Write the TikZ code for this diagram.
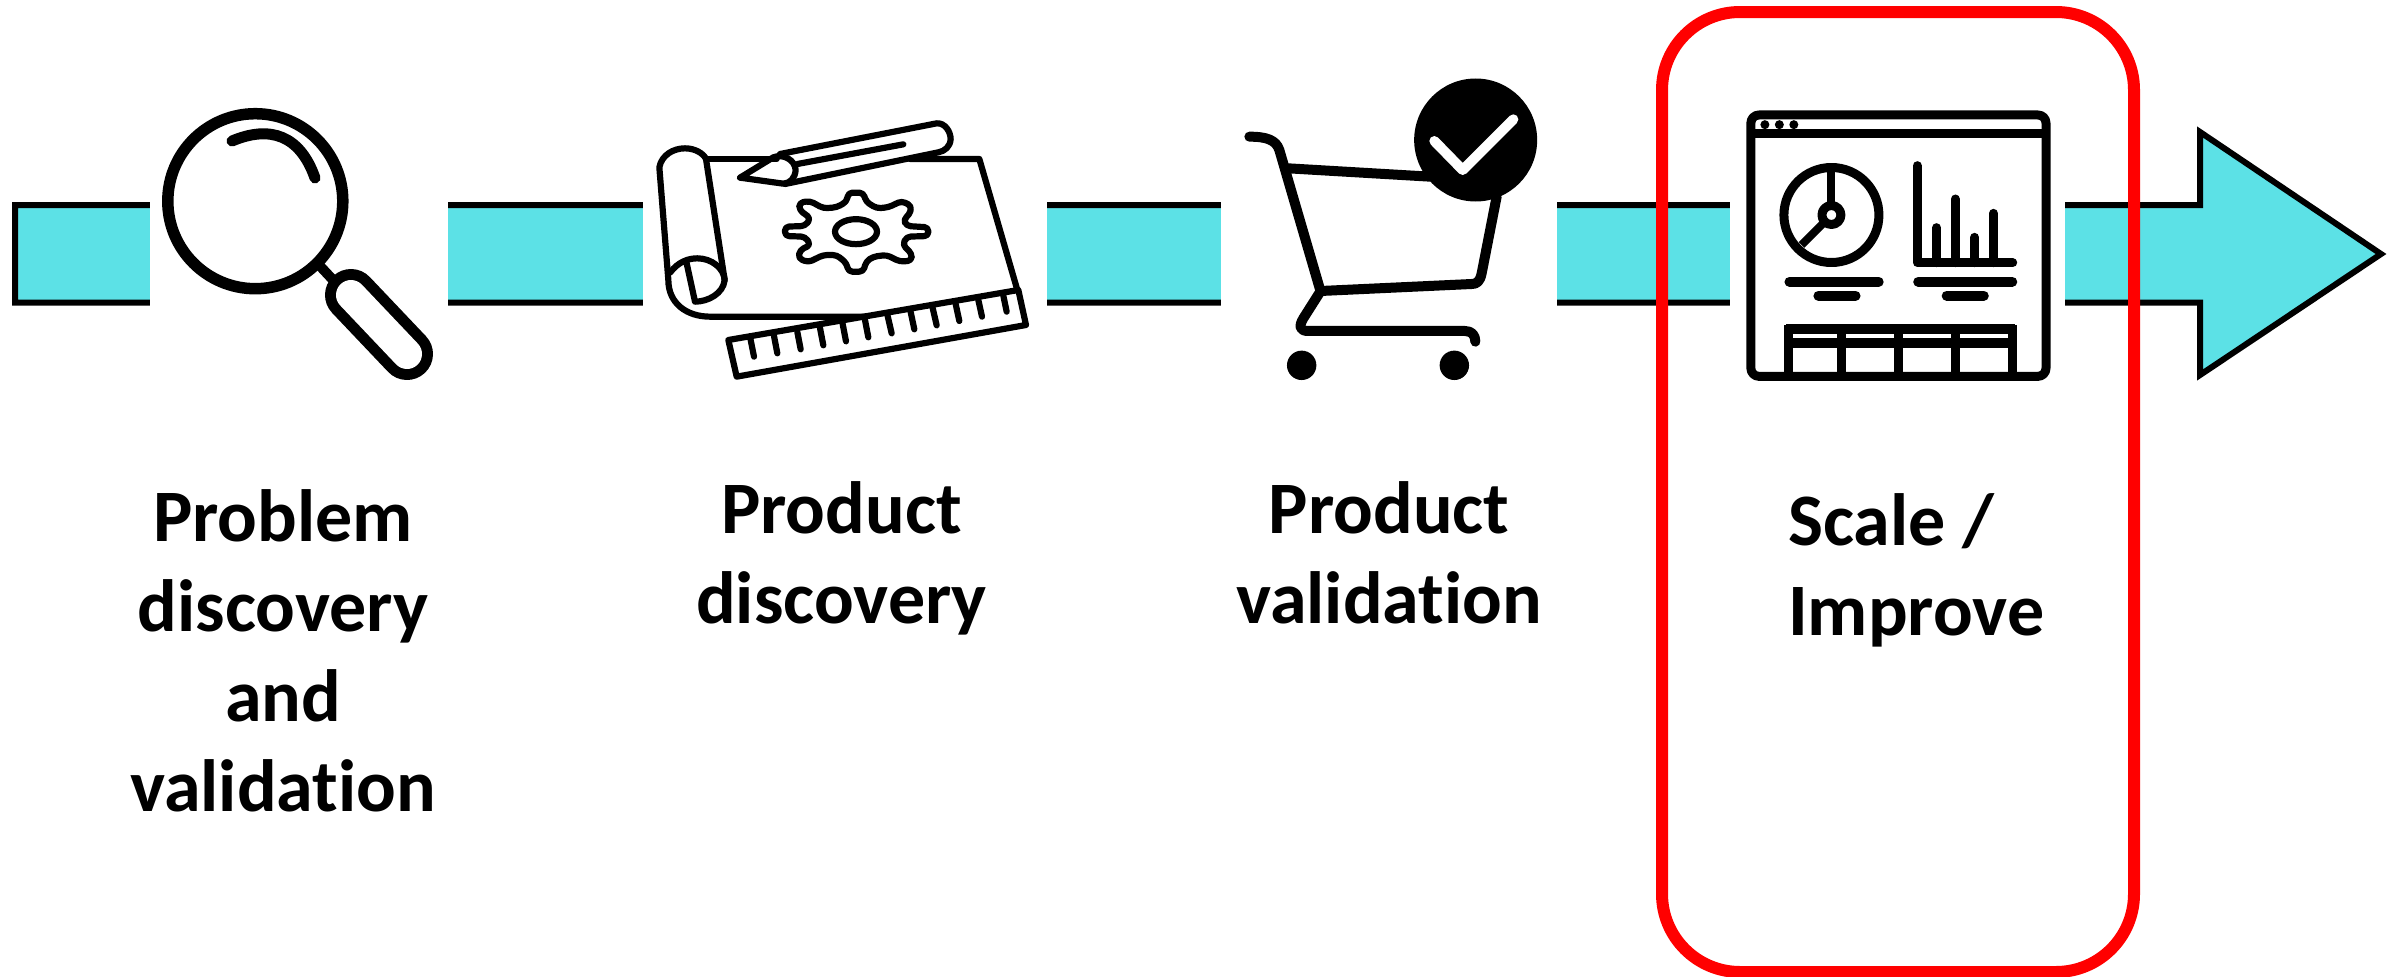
\documentclass[tikz,border=0pt]{standalone}
\usepackage{fontspec}
\setmainfont{Carlito}[Ligatures=NoCommon]
\definecolor{barcyan}{HTML}{5CE1E6}
\tikzset{
  bar/.style={draw=black,fill=barcyan,line width=6pt,line join=miter},
  gap/.style={fill=white,draw=none},
  iconthin/.style={draw=black,line width=6.2pt,line cap=round,line join=round},
  iconcart/.style={draw=black,line width=10pt,line cap=round,line join=round},
  iconwin/.style={draw=black,line width=9pt,line cap=round,line join=round},
  label/.style={font=\fontsize{74}{90}\selectfont\bfseries,inner sep=0pt,text=black},
  focusbox/.style={draw=red,line width=12pt,rounded corners=78pt}
}
\begin{document}
\begin{tikzpicture}[x=1pt,y=-1pt]
\useasboundingbox (0,0) rectangle (2396,977);
% arrow
\draw[bar] (15,205) -- (2200,205) -- (2200,132) -- (2381,254) -- (2200,375) -- (2200,302.5) -- (15,302.5) -- cycle;
\fill[gap] (150,190) rectangle (448,320);
\fill[gap] (643,190) rectangle (1047,320);
\fill[gap] (1221,190) rectangle (1557,320);
\fill[gap] (1730,190) rectangle (2065,320);
% magnifier
\draw[black,line width=11.5pt] (255.3,201.2) circle[radius=87.5pt];
\draw[black,line width=11pt,line cap=round] (232,141) .. controls (270,125) and (300,135) .. (315,178);
\draw[black,line width=10pt] (320,266) -- (334,281);
\draw[black,line width=52pt,line cap=round] (351,295) -- (407,354);
\draw[white,line width=30pt,line cap=round] (351,295) -- (407,354);
% blueprint
\begin{scope}[shift={(620,90)},x=0.33333pt,y=-0.33333pt]
  \draw[iconthin] (258,207) -- (470,207);
  \draw[iconthin] (870,207) -- (1078,207) -- (1192,600);
  \draw[iconthin] (735,680) -- (270,680) .. controls (200,680) and (145,640) .. (145,570) -- (118,232) .. controls (125,195) and (160,175) .. (195,175) .. controls (225,175) and (250,190) .. (258,207) -- (314,570);
  \draw[iconthin] (150,548) .. controls (175,515) and (205,505) .. (232,505) .. controls (275,505) and (312,535) .. (314,570) .. controls (310,610) and (265,635) .. (225,635) -- (200,520);
  % pencil
  \draw[iconthin] (480,192) -- (950,100) .. controls (975,98) and (992,125) .. (992,148) .. controls (990,170) and (975,183) .. (955,187) -- (495,282);
  \draw[iconthin] (360,263) -- (460,202) .. controls (490,190) and (525,210) .. (527,240) .. controls (525,265) and (510,280) .. (490,281) -- cycle;
  \draw[iconthin] (532,222) -- (850,163);
  % gear
  \draw[iconthin,rounded corners=4pt] (680,335) -- (685,308) -- (730,308) -- (738,335) -- (770,355) -- (805,352) -- (845,333) -- (875,348) -- (868,375) -- (850,388) -- (860,408) -- (925,412) -- (925,438) -- (860,440) -- (848,465) -- (875,490) -- (875,512) -- (840,515) -- (800,495) -- (760,500) -- (738,515) -- (730,545) -- (685,545) -- (680,520) -- (650,495) -- (610,495) -- (565,517) -- (535,505) -- (540,480) -- (572,465) -- (555,440) -- (495,438) -- (495,410) -- (555,408) -- (572,385) -- (538,360) -- (538,338) -- (570,333) -- (610,355) -- (650,352) -- cycle;
  \draw[iconthin] (708,425) ellipse[x radius=21pt,y radius=12.5pt];
  % ruler
  \draw[iconthin] (325,750) -- (1195,600) -- (1218,705) -- (350,860) -- cycle;
  \foreach \a/\b/\c/\d in {392/750/402/800,462/738/472/790,532/726/542/778,600/714/610/766,668/702/678/754,735/690/745/742,803/678/815/730,872/666/883/718,938/654/950/706,1007/642/1018/693,1075/630/1086/680,1150/617/1160/665}
    \draw[iconthin] (\a,\b) -- (\c,\d);
\end{scope}
% cart
\begin{scope}[shift={(1200,60)},x=0.33333pt,y=-0.33333pt]
  \draw[iconcart] (148,230) .. controls (200,230) and (228,240) .. (238,270) -- (362,695);
  \draw[iconcart] (265,325) -- (690,350);
  \draw[iconcart] (890,410) -- (845,640) .. controls (840,665) and (830,672) .. (815,672) -- (362,693);
  \draw[iconcart] (362,693) -- (310,775) .. controls (295,800) and (300,813) .. (325,813) -- (795,813) .. controls (815,813) and (826,825) .. (826,845);
  \fill[black] (305,916) circle[radius=14.7pt];
  \fill[black] (763,916) circle[radius=14.7pt];
  \fill[black] (827,240) circle[radius=61.5pt];
  \draw[white,line width=10pt,line cap=round,line join=round] (703,243) -- (788,330) -- (940,178);
\end{scope}
% dashboard
\begin{scope}[shift={(1640,0)},x=0.48216pt,y=-0.33333pt]
  \draw[iconwin,rounded corners=8pt] (230,345) rectangle (842,1129);
  \draw[iconwin,line cap=butt] (230,402) -- (842,402);
  \foreach \a in {259,289,319} \fill[black] (\a,374) circle[radius=4.5pt];
  \draw[iconwin] (397,645) circle[radius=47.5pt];
  \draw[iconwin,line width=8pt,line cap=butt] (397,510) -- (397,620);
  \draw[iconwin,line width=8pt,line cap=butt] (335,735) -- (380,670);
  \draw[iconwin,fill=white] (397,645) circle[radius=9.5pt];
  \draw[iconwin] (575,497) -- (575,788) -- (773,788);
  \draw[iconwin] (615,683) -- (615,788);
  \draw[iconwin] (654,597) -- (654,788);
  \draw[iconwin] (694,712) -- (694,788);
  \draw[iconwin] (733,640) -- (733,788);
  \draw[iconwin,line width=10pt] (310,845) -- (495,845);
  \draw[iconwin,line width=10pt] (370,887) -- (447,887);
  \draw[iconwin,line width=10pt] (577,845) -- (772,845);
  \draw[iconwin,line width=10pt] (636,887) -- (713,887);
  \draw[iconwin,line cap=butt,line width=10pt] (303,987) -- (778,987);
  \draw[iconwin,line cap=butt,line width=10pt] (303,1030) -- (778,1030);
  \foreach \a in {308,417,536,654,773} \draw[iconwin,line cap=butt] (\a,975) -- (\a,1129);
\end{scope}
% focus box
\draw[focusbox] (1662,12) rectangle (2134,972);
% labels
\node[label,align=center,anchor=base] (t1) at (283,811.5) {Problem\\discovery\\and\\validation};
\node[label,align=center,anchor=base] (t2) at (841.5,623.5) {Product\\discovery};
\node[label,align=center,anchor=base] (t3) at (1389,623.5) {Product\\validation};
\node[label,align=left,anchor=base west] (t4) at (1788,635) {Scale /\\Improve};
\end{tikzpicture}
\end{document}
